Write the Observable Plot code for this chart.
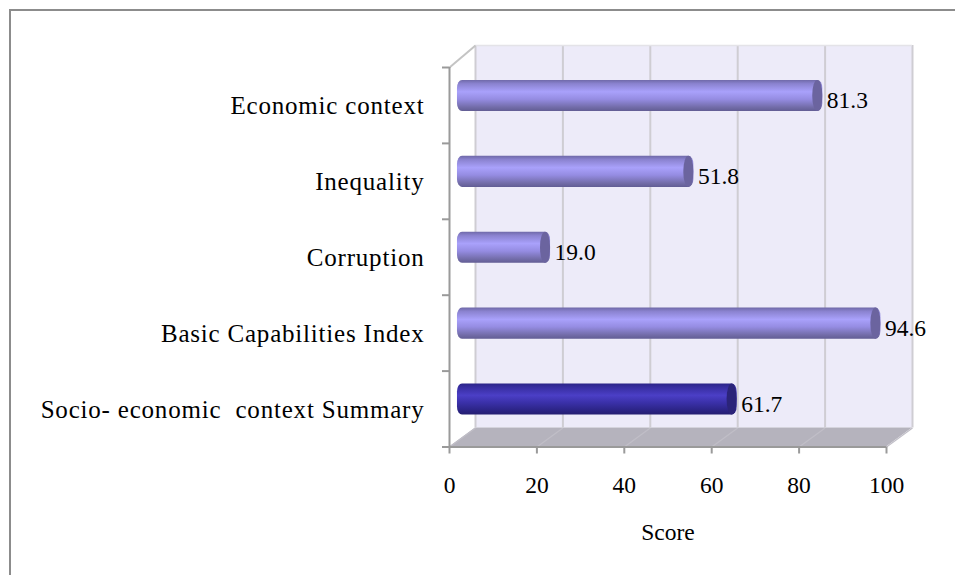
<!DOCTYPE html>
<html>
<head>
<meta charset="utf-8">
<style>
html,body{margin:0;padding:0;background:#fff;overflow:hidden;width:955px;height:575px}
#frame{position:absolute;left:9px;top:9px;right:0;bottom:0;border-left:2px solid #8c8c8c;border-top:2px solid #8c8c8c;pointer-events:none}
#chart{position:absolute;left:0;top:0}
#chart svg{display:block;background:transparent}
g[aria-label="y-axis tick label"] text{letter-spacing:.8px}
g[aria-label="x-axis label"] text{font-size:23.5px}
</style>
<script src="https://cdn.jsdelivr.net/npm/d3@7"></script>
<script src="https://cdn.jsdelivr.net/npm/@observablehq/plot@0.6"></script>
</head>
<body>
<div id="chart"></div>
<div id="frame"></div>
<script>
const categories = ["Socio- economic  context Summary","Basic Capabilities Index","Corruption","Inequality","Economic context"];
const scores = [61.7,94.6,19.0,51.8,81.3];
const xTicks = [0,20,40,60,80,100];
const xAxisLabel = "Score";
const summaryCategory = categories[0];

const serif = "'Liberation Serif','Times New Roman',serif";
const bars = categories.map((name,i)=>({name,i,score:scores[i]}));

// 3-D depth of the chart box, in scale units
const depthX = 5.95, depthY = 0.25, wallTop = 5.29;
const capX = 1.15, barHalf = 0.205;

const defs = () => {
  const d = d3.create("svg:defs");
  const grad = (id,stops) => {
    const g = d.append("linearGradient").attr("id",id).attr("x1",0).attr("x2",0).attr("y1",0).attr("y2",1);
    stops.forEach(([o,c])=>g.append("stop").attr("offset",o).attr("stop-color",c));
  };
  grad("barLight",[[0,"#6f69a8"],[.12,"#8a82cf"],[.38,"#a9a1fb"],[.62,"#958ce2"],[.88,"#726ca8"],[1,"#625d94"]]);
  grad("barDark",[[0,"#2b2488"],[.12,"#372da0"],[.38,"#4b3fc6"],[.62,"#3a30a8"],[.88,"#2a2382"],[1,"#241e70"]]);
  return d.node();
};

const chart = Plot.plot({
  width:955, height:575,
  marginLeft:449, marginRight:69, marginTop:67, marginBottom:128.5,
  style:{fontFamily:serif, background:"transparent", overflow:"visible"},
  x:{domain:[0,100]},
  y:{domain:[0,5]},
  color:{type:"identity"},
  marks:[
    defs,
    // back wall
    Plot.rect([0],{x1:depthX,x2:100+depthX,y1:depthY,y2:wallTop,fill:"#edebf9"}),
    // floor
    Plot.areaX([{a:0,b:100,y:0},{a:depthX,b:100+depthX,y:depthY}],{x1:"a",x2:"b",y:"y",fill:"#b5b3bd"}),
    // floor grid
    Plot.link(xTicks,{x1:d=>d,x2:d=>d+depthX,y1:0,y2:depthY,stroke:"#c0bec7",strokeWidth:1.2}),
    // wall grid
    Plot.ruleX(xTicks,{x:d=>d+depthX,y1:depthY,y2:wallTop,stroke:"#cfcdd3",strokeWidth:2}),
    Plot.ruleY([wallTop],{x1:depthX,x2:100+depthX,y:wallTop,stroke:"#e4e3e8",strokeWidth:1.5}),
    // left side edge
    Plot.link([0],{x1:0,x2:depthX,y1:5,y2:wallTop,stroke:"#c4c4c4",strokeWidth:2}),
    // cylinders
    Plot.rect(bars,{
      x1:d=>depthX/2-capX, x2:d=>d.score+depthX/2+capX,
      y1:d=>d.i+.5-barHalf+depthY/2, y2:d=>d.i+.5+barHalf+depthY/2,
      rx:5, ry:8,
      fill:d=>d.name===summaryCategory?"url(#barDark)":"url(#barLight)"
    }),
    Plot.rect(bars,{
      x1:d=>d.score+depthX/2-capX, x2:d=>d.score+depthX/2+capX,
      y1:d=>d.i+.5-barHalf+depthY/2, y2:d=>d.i+.5+barHalf+depthY/2,
      rx:5, ry:15,
      fill:d=>d.name===summaryCategory?"#2b2479":"#6b649f"
    }),
    // value labels
    Plot.text(bars,{
      x:d=>d.score+depthX/2+capX, y:d=>d.i+.5+depthY/2,
      text:d=>d.score.toFixed(1), textAnchor:"start", dx:4, dy:5,
      fontSize:23.5, fill:"#000"
    }),
    // axes
    Plot.axisY({ticks:d3.range(0,6),text:null,tickSize:7,stroke:"#9a9a9a",strokeWidth:2,label:null}),
    Plot.axisY({ticks:categories.map((_,i)=>i+.5),tickFormat:v=>categories[v-.5],tickSize:0,tickPadding:25,fontSize:25,dy:1,fill:"#000",label:null,lineAnchor:"middle"}),
    Plot.ruleX([0],{y1:0,y2:5,stroke:"#9a9a9a",strokeWidth:2}),
    Plot.ruleY([0],{x1:0,x2:100,stroke:"#9a9a9a",strokeWidth:2}),
    Plot.axisX({ticks:xTicks,text:null,tickSize:7,stroke:"#9a9a9a",strokeWidth:2,label:null}),
    Plot.axisX({ticks:xTicks,tickFormat:d=>String(d),tickSize:0,tickPadding:29,fontSize:23.5,fill:"#000",
      label:xAxisLabel,labelAnchor:"center",labelArrow:"none",labelOffset:93})
  ]
});
document.getElementById("chart").appendChild(chart);
</script>
</body>
</html>
